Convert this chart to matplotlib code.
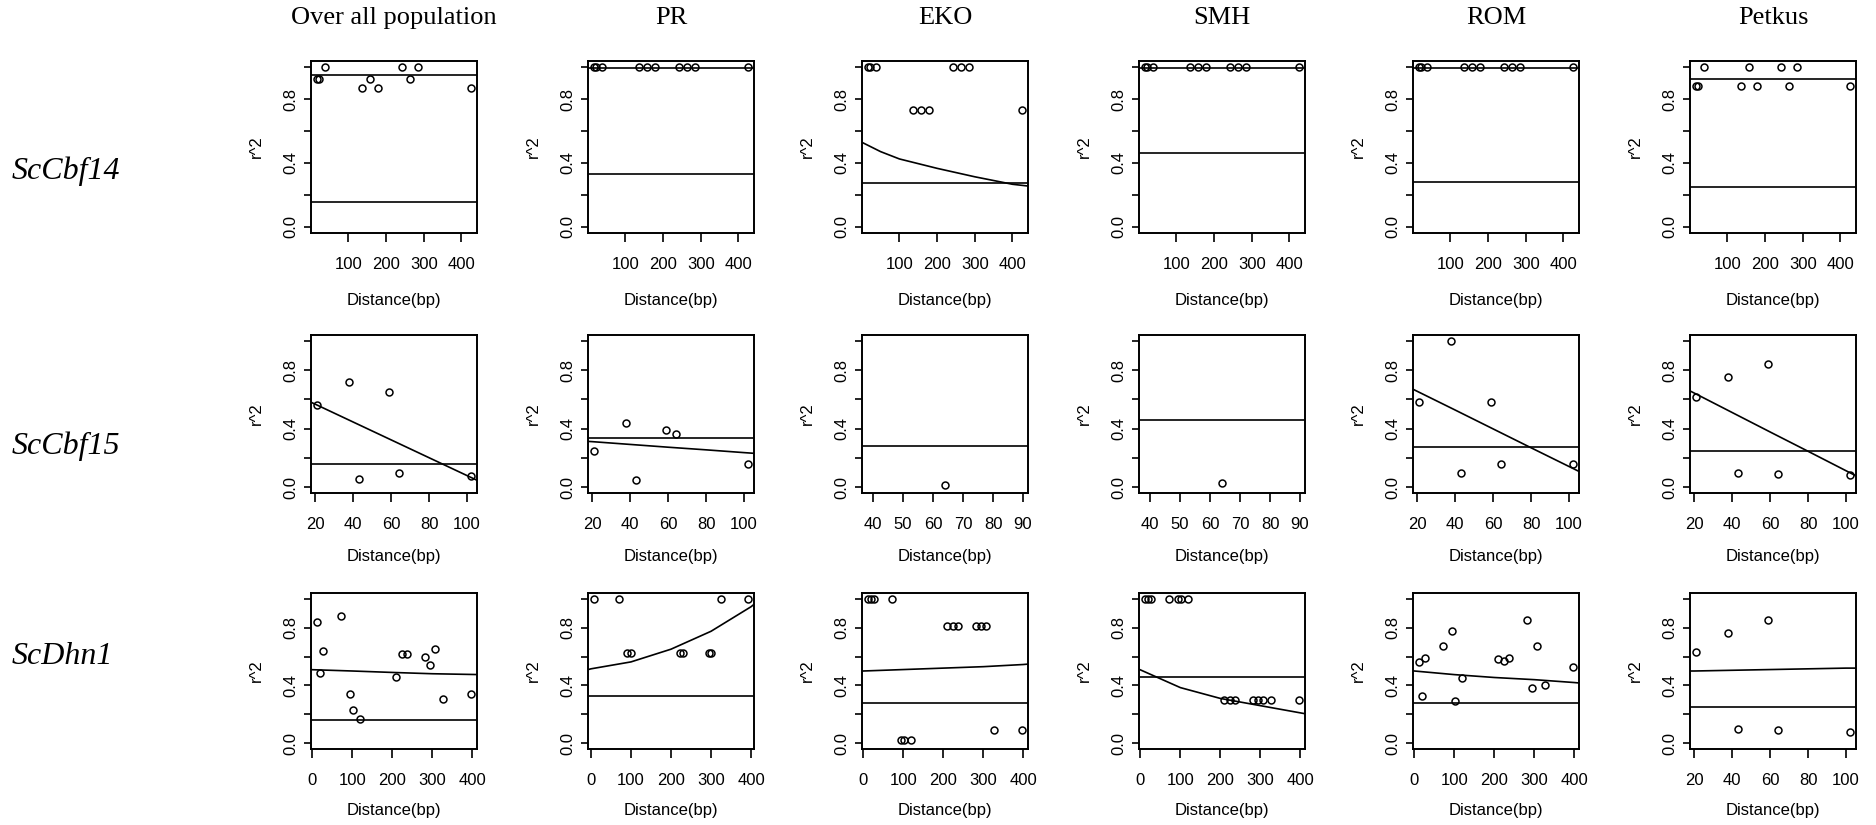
import matplotlib
matplotlib.use("Agg")
import matplotlib.pyplot as plt
import numpy as np

W, H = 1876, 825

populations = ["Over all population", "PR", "EKO", "SMH", "ROM", "Petkus"]
genes = ["ScCbf14", "ScCbf15", "ScDhn1"]

# ---- ScCbf14 ----
cbf14_dist = [17, 21, 39, 137, 158, 178, 243, 263, 285, 425]
cbf14_r2 = [
    [0.93, 0.93, 1.0, 0.87, 0.93, 0.87, 1.0, 0.93, 1.0, 0.87],
    [1.0, 1.0, 1.0, 1.0, 1.0, 1.0, 1.0, 1.0, 1.0, 1.0],
    [1.0, 1.0, 1.0, 0.73, 0.73, 0.73, 1.0, 1.0, 1.0, 0.73],
    [1.0, 1.0, 1.0, 1.0, 1.0, 1.0, 1.0, 1.0, 1.0, 1.0],
    [1.0, 1.0, 1.0, 1.0, 1.0, 1.0, 1.0, 1.0, 1.0, 1.0],
    [0.88, 0.88, 1.0, 0.88, 1.0, 0.88, 1.0, 0.88, 1.0, 0.88],
]
cbf14_fit_x = [-20, 0, 50, 100, 200, 300, 400, 460]
cbf14_fit = [
    [0.953, 0.953, 0.953, 0.953, 0.953, 0.953, 0.953, 0.953],
    [0.998, 0.998, 0.998, 0.998, 0.998, 0.998, 0.998, 0.998],
    [0.55, 0.53, 0.471, 0.425, 0.366, 0.313, 0.266, 0.250],
    [0.998, 0.998, 0.998, 0.998, 0.998, 0.998, 0.998, 0.998],
    [0.998, 0.998, 0.998, 0.998, 0.998, 0.998, 0.998, 0.998],
    [0.928, 0.928, 0.928, 0.928, 0.928, 0.928, 0.928, 0.928],
]
cbf14_crit = [0.156, 0.333, 0.277, 0.46, 0.278, 0.25]
cbf14_xticks = [[100, 200, 300, 400]] * 6

# ---- ScCbf15 ----
cbf15_dist = [21, 38, 43, 59, 64, 102]
cbf15_r2 = [
    [0.56, 0.72, 0.055, 0.65, 0.094, 0.073],
    [0.25, 0.44, 0.048, 0.39, 0.36, 0.158],
    [],
    [],
    [0.58, 1.0, 0.094, 0.58, 0.16, 0.16],
    [0.615, 0.754, 0.10, 0.839, 0.091, 0.082],
]
cbf15_single_dist = [None, None, [64], [64], None, None]
cbf15_single_r2 = [None, None, [0.014], [0.03], None, None]
cbf15_fit_x = [15, 20, 40, 60, 80, 100, 110]
cbf15_fit = [
    [0.597, 0.567, 0.445, 0.323, 0.201, 0.079, 0.018],
    [0.315, 0.311, 0.292, 0.273, 0.255, 0.236, 0.227],
    None,
    None,
    [0.687, 0.655, 0.527, 0.398, 0.269, 0.141, 0.077],
    [0.676, 0.643, 0.510, 0.377, 0.245, 0.112, 0.046],
]
cbf15_crit = [0.158, 0.334, 0.282, 0.46, 0.277, 0.247]
cbf15_xticks = [[20, 40, 60, 80, 100], [20, 40, 60, 80, 100],
                [40, 50, 60, 70, 80, 90], [40, 50, 60, 70, 80, 90],
                [20, 40, 60, 80, 100], [20, 40, 60, 80, 100]]

# ---- ScDhn1 ----
dhn1_dist = [12, 18, 26, 71, 95, 102, 120, 210, 224, 236, 281, 295, 306, 326, 396]
dhn1_pr_dist = [8, 70, 90, 101, 223, 230, 295, 300, 326, 392]
dhn1_petkus_dist = [21, 38, 43, 59, 64, 102]
dhn1_r2 = [
    [0.837, 0.486, 0.636, 0.883, 0.341, 0.231, 0.166, 0.459, 0.616, 0.616,
     0.597, 0.542, 0.652, 0.304, 0.341],
    [1.0, 1.0, 0.625, 0.625, 0.625, 0.625, 0.625, 0.625, 1.0, 1.0],
    [1.0, 1.0, 1.0, 1.0, 0.02, 0.02, 0.02, 0.81, 0.81, 0.81,
     0.81, 0.81, 0.81, 0.09, 0.09],
    [1.0, 1.0, 1.0, 1.0, 1.0, 1.0, 1.0, 0.3, 0.3, 0.3,
     0.3, 0.3, 0.3, 0.3, 0.3],
    [0.565, 0.33, 0.59, 0.67, 0.78, 0.29, 0.45, 0.58, 0.57, 0.59,
     0.85, 0.38, 0.67, 0.40, 0.53],
    [0.63, 0.76, 0.10, 0.85, 0.09, 0.08],
]
dhn1_fit_x = [-20, 0, 100, 200, 300, 400, 420]
dhn1_petkus_fit_x = [15, 20, 40, 60, 80, 100, 110]
dhn1_fit = [
    [0.51, 0.509, 0.500, 0.490, 0.481, 0.476, 0.475],
    [0.50, 0.515, 0.563, 0.651, 0.775, 0.945, 0.99],
    [0.50, 0.50, 0.51, 0.52, 0.53, 0.545, 0.55],
    [0.53, 0.508, 0.385, 0.31, 0.26, 0.21, 0.20],
    [0.505, 0.50, 0.475, 0.455, 0.44, 0.42, 0.415],
    [0.50, 0.50, 0.505, 0.51, 0.515, 0.52, 0.52],
]
dhn1_crit = [0.16, 0.329, 0.28, 0.46, 0.28, 0.25]
dhn1_xticks = [[0, 100, 200, 300, 400]] * 5 + [[20, 40, 60, 80, 100]]

# panel placement (pixels)
col_left = [311, 588, 862, 1139, 1413, 1690]
panel_w = 166
row_top = [61, 335, 593]
row_bot = [233, 493, 749]
row_xlabel_gap = [68, 63, 62]
row_label_y = [171, 446, 656]

sans = ["Liberation Sans Narrow", "Liberation Sans", "DejaVu Sans"]
serif = ["Liberation Serif", "DejaVu Serif"]

fig = plt.figure(figsize=(W / 100, H / 100), dpi=100)


def r_range(x):
    lo, hi = min(x), max(x)
    if lo == hi:
        lo, hi = lo * 0.6, hi * 1.4
    d = 0.04 * (hi - lo)
    return lo - d, hi + d


def panel(row, col, dist, r2, fit_x, fit_y, crit, xticks):
    l, t, b = col_left[col], row_top[row], row_bot[row]
    ax = fig.add_axes([l / W, 1 - b / H, panel_w / W, (b - t) / H])
    ax.plot(dist, r2, "o", ms=5, mfc="none", mec="black", mew=1.1, clip_on=False)
    if fit_y is not None:
        ax.plot(fit_x, fit_y, color="black", lw=1.2)
    ax.axhline(crit, color="black", lw=1.2)
    ax.set_xlim(*r_range(dist))
    ax.set_ylim(-0.04, 1.04)
    ax.set_xticks(xticks)
    ax.set_xticklabels([str(v) for v in xticks], family=sans, fontsize=12)
    ax.set_yticks([0, 0.2, 0.4, 0.6, 0.8, 1.0])
    ax.set_yticklabels(["0.0", "", "0.4", "", "0.8", ""], family=sans,
                       fontsize=12, rotation=90, va="center")
    ax.tick_params(axis="x", length=6.5, width=1.2, pad=11)
    ax.tick_params(axis="y", length=5, width=1.2, pad=4)
    for s in ax.spines.values():
        s.set_linewidth(1.4)
    cx = (l + l + panel_w) / 2
    fig.text(cx / W, 1 - (b + row_xlabel_gap[row]) / H, "Distance(bp)",
             family=sans, fontsize=12, ha="center", va="center")
    fig.text((l - 55) / W, 1 - (t + b) / 2 / H, "r^2", family=sans,
             fontsize=12, rotation=90, ha="center", va="center")
    return ax


for c in range(6):
    panel(0, c, cbf14_dist, cbf14_r2[c], cbf14_fit_x, cbf14_fit[c],
          cbf14_crit[c], cbf14_xticks[c])

for c in range(6):
    if cbf15_single_dist[c] is not None:
        d, r = cbf15_single_dist[c], cbf15_single_r2[c]
    else:
        d, r = cbf15_dist, cbf15_r2[c]
    panel(1, c, d, r, cbf15_fit_x, cbf15_fit[c], cbf15_crit[c], cbf15_xticks[c])

for c in range(6):
    if c == 1:
        d, fx = dhn1_pr_dist, dhn1_fit_x
    elif c == 5:
        d, fx = dhn1_petkus_dist, dhn1_petkus_fit_x
    else:
        d, fx = dhn1_dist, dhn1_fit_x
    panel(2, c, d, dhn1_r2[c], fx, dhn1_fit[c], dhn1_crit[c], dhn1_xticks[c])

# column headings and gene names
for c, name in enumerate(populations):
    cx = col_left[c] + panel_w / 2
    fig.text(cx / W, 1 - 18 / H, name, family=serif, fontsize=19,
             ha="center", va="center")
for r, g in enumerate(genes):
    fig.text(12 / W, 1 - row_label_y[r] / H, g, family=serif, style="italic",
             fontsize=23, ha="left", va="center")

fig.savefig("out.png", dpi=100)
